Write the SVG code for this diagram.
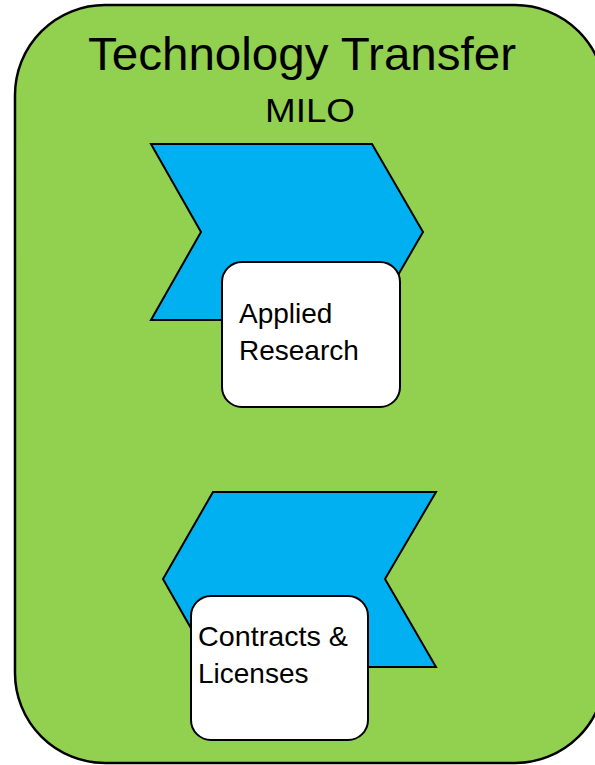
<svg xmlns="http://www.w3.org/2000/svg" width="595" height="765" viewBox="0 0 595 765">
<style>
.frame{fill:#92D050;stroke:#000;stroke-width:2.5}
.chev{fill:#00B0F0;stroke:#000;stroke-width:2}
.box{fill:#fff;stroke:#000;stroke-width:2}
text{font-family:"Liberation Sans",Arial,sans-serif;fill:#000}
</style>
<g id="container">
<rect class="frame" x="15" y="5" width="590" height="758" rx="90" ry="90"/>
<text x="302" y="70" font-size="46" text-anchor="middle" textLength="428" lengthAdjust="spacingAndGlyphs">Technology Transfer</text>
<text x="310" y="122" font-size="34" text-anchor="middle" textLength="90" lengthAdjust="spacingAndGlyphs">MILO</text>
</g>
<g id="node-applied-research">
<polygon class="chev" points="151,144 372,144 423,232 372,320 151,320 201,232"/>
<rect class="box" x="222" y="262" width="178" height="145" rx="20" ry="20"/>
<text x="239" y="323" font-size="28">Applied</text>
<text x="239" y="360" font-size="28">Research</text>
</g>
<g id="node-contracts-licenses">
<polygon class="chev" points="213,492 436,492 385,579 436,667 213,667 163,579"/>
<rect class="box" x="191" y="596" width="177" height="144" rx="20" ry="20"/>
<text x="198" y="646" font-size="28" textLength="150" lengthAdjust="spacingAndGlyphs">Contracts &amp;</text>
<text x="198" y="683" font-size="28">Licenses</text>
</g>
<g id="connectors"></g>
</svg>
